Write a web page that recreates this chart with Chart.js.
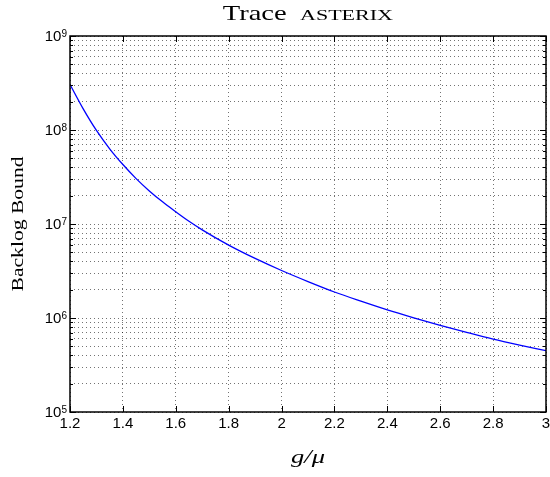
<!DOCTYPE html>
<html>
<head>
<meta charset="utf-8">
<title>Trace ASTERIX</title>
<script src="https://cdn.jsdelivr.net/npm/chart.js@4.4.1/dist/chart.umd.min.js"></script>
<style>
  html,body{margin:0;padding:0;background:#fff;}
  #wrap{width:550px;height:477px;}
</style>
</head>
<body>
<div id="wrap"><canvas id="chartBacklog" width="550" height="477"></canvas></div>
<script>
/* ===== dados ===== */
const gOverMu = [1.20, 1.25, 1.30, 1.35, 1.40, 1.45, 1.50, 1.55, 1.60, 1.65, 1.70, 1.80, 1.90,
                 2.00, 2.10, 2.20, 2.30, 2.40, 2.50, 2.60, 2.70, 2.80, 2.90, 3.00];
const backlogBound = [3.05e8, 1.68e8, 9.89e7, 6.31e7, 4.29e7, 3.04e7, 2.25e7, 1.72e7, 1.35e7, 1.07e7, 8.67e6, 5.96e6, 4.3e6,
                      3.2e6, 2.44e6, 1.89e6, 1.51e6, 1.22e6, 1.005e6, 8.36e5, 7.03e5, 5.96e5, 5.15e5, 4.49e5];

const xTicks = [1.2, 1.4, 1.6, 1.8, 2.0, 2.2, 2.4, 2.6, 2.8, 3.0];
const xTickLabels = ['1.2', '1.4', '1.6', '1.8', '2', '2.2', '2.4', '2.6', '2.8', '3'];
const yDecades = [5, 6, 7, 8, 9];

const SERIF = '"Liberation Serif", "Times New Roman", serif';
const SANS = '"Liberation Sans", Arial, Helvetica, sans-serif';
const DOTS = [1, 3];

/* ===== helpers ===== */
// texto esticado na horizontal até ocupar a largura w
function textoLargo(ctx, txt, font, x, y, w, align){
  ctx.save();
  ctx.font = font;
  const nat = ctx.measureText(txt).width;
  ctx.translate(x, y);
  ctx.scale(w / nat, 1);
  ctx.textAlign = align || 'left';
  ctx.textBaseline = 'alphabetic';
  ctx.fillText(txt, 0, 0);
  ctx.restore();
}
function linha(ctx, x1, y1, x2, y2){
  ctx.beginPath(); ctx.moveTo(x1, y1); ctx.lineTo(x2, y2); ctx.stroke();
}

/* ===== moldura, ticks internos e textos ===== */
const molduraPlugin = {
  id: 'moldura',
  afterDraw(chart){
    const ctx = chart.ctx, a = chart.chartArea;
    const xs = chart.scales.x, ys = chart.scales.y;
    ctx.save();
    ctx.fillStyle = '#000';
    ctx.strokeStyle = '#000';
    ctx.lineWidth = 1;

    xTicks.forEach(v => {
      const px = Math.round(xs.getPixelForValue(v)) + 0.5;
      linha(ctx, px, a.bottom, px, a.bottom - 6);
      linha(ctx, px, a.top, px, a.top + 6);
    });
    ys.ticks.forEach(t => {
      const py = Math.round(ys.getPixelForValue(t.value)) + 0.5;
      const major = Math.abs(Math.log10(t.value) % 1) < 1e-9;
      const len = major ? 6 : 3;
      linha(ctx, a.left, py, a.left + len, py);
      linha(ctx, a.right, py, a.right - len, py);
    });

    ctx.lineWidth = 1.5;
    ctx.strokeRect(a.left, a.top, a.right - a.left, a.bottom - a.top);

    // rótulos do eixo y: 10^n
    ctx.textAlign = 'left';
    ctx.textBaseline = 'alphabetic';
    yDecades.forEach(e => {
      const py = ys.getPixelForValue(Math.pow(10, e));
      ctx.font = '15px ' + SANS;
      const wb = ctx.measureText('10').width;
      ctx.font = '10px ' + SANS;
      const we = ctx.measureText(String(e)).width;
      const x0 = a.left - 3 - we - wb;
      ctx.font = '15px ' + SANS;
      ctx.fillText('10', x0, py + 5.3);
      ctx.font = '10px ' + SANS;
      ctx.fillText(String(e), x0 + wb, py + 0.5);
    });

    // título
    const cx = (a.left + a.right) / 2;
    textoLargo(ctx, 'Trace', '21.5px ' + SERIF, cx - 85.3, 20, 64);
    textoLargo(ctx, 'ASTERIX', '13.6px ' + SERIF, cx - 8, 20, 93);

    // eixo x
    textoLargo(ctx, 'g/μ', 'italic 19px ' + SERIF, cx, 462.5, 34, 'center');

    // eixo y
    ctx.save();
    ctx.translate(22.5, (a.top + a.bottom) / 2);
    ctx.rotate(-Math.PI / 2);
    textoLargo(ctx, 'Backlog Bound', '17.7px ' + SERIF, 0, 0, 135, 'center');
    ctx.restore();

    ctx.restore();
  }
};

/* ===== gráfico ===== */
new Chart(document.getElementById('chartBacklog'), {
  type: 'line',
  data: {
    datasets: [{
      label: 'Backlog Bound',
      data: gOverMu.map((g, i) => ({ x: g, y: backlogBound[i] })),
      borderColor: '#0000ff',
      borderWidth: 1.3,
      pointRadius: 0,
      fill: false,
      cubicInterpolationMode: 'monotone'
    }]
  },
  options: {
    responsive: false,
    animation: false,
    events: [],
    layout: { autoPadding: false, padding: { top: 36, right: 4, left: 0, bottom: 0 } },
    plugins: { legend: { display: false }, tooltip: { enabled: false }, title: { display: false } },
    scales: {
      x: {
        type: 'linear',
        min: 1.2, max: 3,
        afterBuildTicks: s => { s.ticks = xTicks.map(v => ({ value: v })); },
        afterFit: s => { s.height = 65; s.paddingLeft = 0; s.paddingRight = 0; },
        ticks: {
          autoSkip: false, maxRotation: 0, padding: 3,
          color: '#000', font: { family: SANS, size: 15 },
          callback: (v, i) => xTickLabels[i]
        },
        grid: { color: 'rgba(0,0,0,0.55)', lineWidth: 1, drawTicks: false, borderDash: DOTS },
        border: { display: false, dash: DOTS }
      },
      y: {
        type: 'logarithmic',
        min: 1e5, max: 1e9,
        afterBuildTicks: s => {
          const t = [];
          yDecades.forEach((e, k) => {
            if (k === yDecades.length - 1) { t.push({ value: Math.pow(10, e) }); return; }
            for (let m = 1; m <= 9; m++) t.push({ value: m * Math.pow(10, e) });
          });
          s.ticks = t;
        },
        afterFit: s => { s.width = 70; s.paddingTop = 0; s.paddingBottom = 0; },
        ticks: { display: false, autoSkip: false },
        grid: { color: 'rgba(0,0,0,0.55)', lineWidth: 1, drawTicks: false, borderDash: DOTS },
        border: { display: false, dash: DOTS }
      }
    }
  },
  plugins: [molduraPlugin]
});
</script>
</body>
</html>
